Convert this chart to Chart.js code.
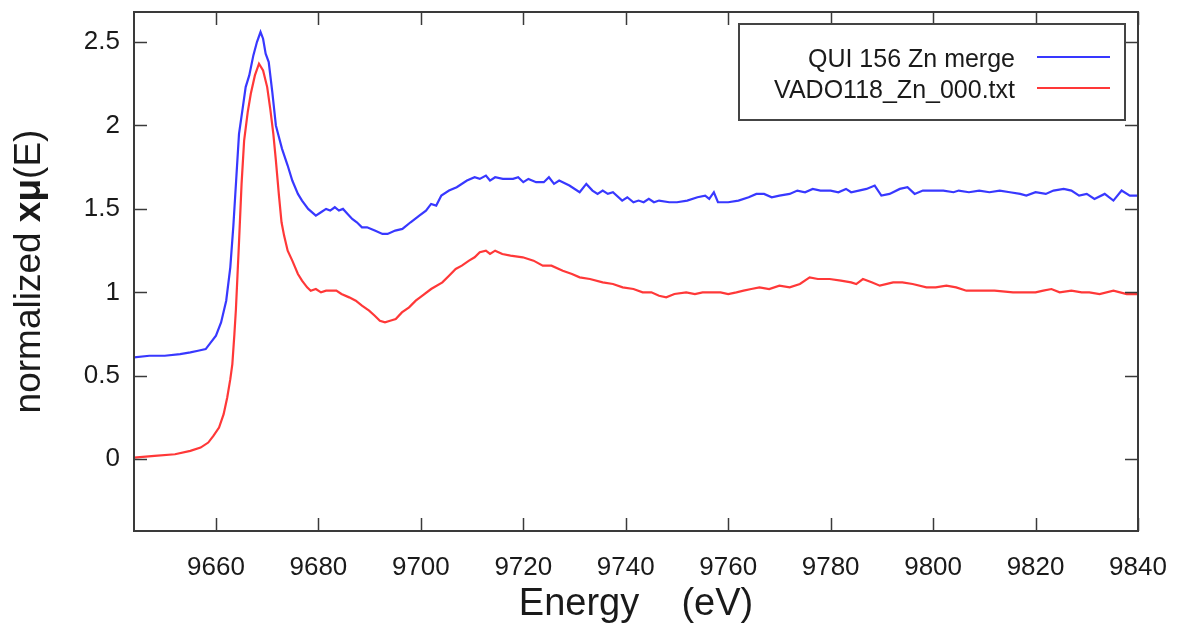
<!DOCTYPE html>
<html>
<head>
<meta charset="utf-8">
<title>normalized xμ(E)</title>
<script src="https://cdn.jsdelivr.net/npm/chart.js@4.4.1/dist/chart.umd.min.js"></script>
<style>
  html, body { margin: 0; padding: 0; background: #fff; }
  canvas { display: block; }
</style>
</head>
<body>
<canvas id="myChart" width="1183" height="627"></canvas>
<script>
// QUI 156 Zn merge (blue)
const blueEnergy = [9644, 9647, 9650, 9653, 9655, 9656.5, 9658, 9659, 9660, 9661, 9662, 9662.8, 9663.4, 9664, 9664.5,
  9665.2, 9665.8, 9666.5, 9667.3, 9668, 9668.7, 9669.2, 9669.7, 9670.3, 9671, 9671.7, 9672.3, 9672.9, 9674, 9674.9,
  9676, 9676.8, 9678, 9679.5, 9680.5, 9681.5, 9682.3, 9683.2, 9684, 9684.8, 9685.7, 9686.6, 9687.5, 9688.5, 9689.5,
  9691, 9692.5, 9693.5, 9695, 9696.4, 9698, 9699.7, 9701, 9702, 9703, 9704, 9705.5, 9707, 9709, 9710.5,
  9711.5, 9712.7, 9713.5, 9714.5, 9716, 9718, 9719, 9720, 9721, 9722.5, 9724, 9725, 9726, 9727, 9729,
  9731, 9732.3, 9733.5, 9734.5, 9735.5, 9736.5, 9737.5, 9739.3, 9740.3, 9741.5, 9742.5, 9743.5, 9744.5, 9745.5, 9746.5,
  9748.5, 9750, 9752, 9754, 9755.5, 9756.3, 9757.2, 9758, 9760, 9762, 9764, 9765.5, 9767, 9768.5, 9770,
  9772, 9773.5, 9775, 9776.5, 9778, 9780, 9781.5, 9783, 9784, 9785.5, 9787, 9788.6, 9789.9, 9791.5, 9793.5,
  9795, 9796.4, 9798, 9800, 9802, 9804, 9805, 9807, 9809, 9811, 9813, 9815, 9817, 9818.2, 9820,
  9822, 9823.5, 9825.5, 9827, 9828.5, 9830, 9831.5, 9833.5, 9835.2, 9836.8, 9838.4, 9840];
const blueMu = [0.61, 0.62, 0.62, 0.63, 0.64, 0.65, 0.66, 0.70, 0.74, 0.82, 0.95, 1.15, 1.40, 1.70, 1.95,
  2.10, 2.23, 2.30, 2.42, 2.50, 2.56, 2.52, 2.43, 2.38, 2.20, 2.00, 1.93, 1.86, 1.76, 1.67,
  1.59, 1.55, 1.50, 1.46, 1.48, 1.50, 1.49, 1.51, 1.49, 1.50, 1.47, 1.44, 1.42, 1.39, 1.39,
  1.37, 1.35, 1.35, 1.37, 1.38, 1.42, 1.46, 1.49, 1.53, 1.52, 1.58, 1.61, 1.63, 1.67, 1.69,
  1.68, 1.70, 1.67, 1.69, 1.68, 1.68, 1.69, 1.66, 1.68, 1.66, 1.66, 1.69, 1.65, 1.67, 1.64,
  1.60, 1.65, 1.61, 1.59, 1.61, 1.59, 1.60, 1.55, 1.57, 1.54, 1.55, 1.54, 1.56, 1.54, 1.55,
  1.54, 1.54, 1.55, 1.57, 1.58, 1.56, 1.60, 1.54, 1.54, 1.55, 1.57, 1.59, 1.59, 1.57, 1.58,
  1.59, 1.61, 1.60, 1.62, 1.61, 1.61, 1.60, 1.62, 1.60, 1.61, 1.62, 1.64, 1.58, 1.59, 1.62,
  1.63, 1.59, 1.61, 1.61, 1.61, 1.60, 1.61, 1.60, 1.61, 1.60, 1.61, 1.60, 1.59, 1.58, 1.60,
  1.59, 1.61, 1.62, 1.61, 1.58, 1.59, 1.56, 1.59, 1.55, 1.61, 1.58, 1.58];

// VADO118_Zn_000.txt (red)
const redEnergy = [9644, 9648, 9652, 9655, 9657, 9658.5, 9659.5, 9660.6, 9661.5, 9662.2, 9662.8, 9663.2, 9663.6, 9663.9, 9664.2,
  9664.5, 9665, 9665.5, 9666.2, 9666.8, 9667.6, 9668.4, 9669.2, 9670, 9670.6, 9671.2, 9671.7, 9672.3, 9672.8, 9673.3,
  9674, 9674.9, 9676, 9676.8, 9677.8, 9678.5, 9679.5, 9680.5, 9681.5, 9682.5, 9683.5, 9684.5, 9686, 9687.3, 9688.5,
  9689.9, 9691, 9692, 9693, 9694, 9695.1, 9696.3, 9697.7, 9699, 9700.3, 9702, 9704.2, 9705.5, 9706.8, 9708,
  9709.4, 9710.5, 9711.5, 9712.7, 9713.5, 9714.5, 9715.9, 9717.5, 9719.9, 9722, 9723.8, 9725.5, 9727.7, 9729.5, 9731,
  9733, 9735.5, 9737.5, 9739.4, 9741.5, 9743.3, 9745, 9746.5, 9747.9, 9749.5, 9751.8, 9753.5, 9755, 9757, 9758.5,
  9760, 9761.6, 9763, 9764.5, 9766.1, 9768, 9770, 9772, 9774, 9775.9, 9777.5, 9779.8, 9782, 9784, 9785,
  9786.3, 9788, 9789.6, 9792.2, 9794, 9796, 9798.7, 9800.5, 9802.6, 9804.5, 9806.5, 9809, 9812, 9815.6, 9818,
  9820, 9821.5, 9823.1, 9824.7, 9827, 9829, 9830.5, 9832.5, 9835.2, 9837.8, 9840];
const redMu = [0.01, 0.02, 0.03, 0.05, 0.07, 0.10, 0.14, 0.19, 0.27, 0.37, 0.48, 0.57, 0.75, 0.90, 1.10,
  1.30, 1.65, 1.91, 2.08, 2.19, 2.30, 2.37, 2.33, 2.23, 2.10, 1.95, 1.79, 1.58, 1.42, 1.34,
  1.25, 1.19, 1.11, 1.07, 1.03, 1.01, 1.02, 1.00, 1.01, 1.01, 1.01, 0.99, 0.97, 0.95, 0.92,
  0.89, 0.86, 0.83, 0.82, 0.83, 0.84, 0.88, 0.91, 0.95, 0.98, 1.02, 1.06, 1.10, 1.14, 1.16,
  1.19, 1.21, 1.24, 1.25, 1.23, 1.25, 1.23, 1.22, 1.21, 1.19, 1.16, 1.16, 1.13, 1.11, 1.09,
  1.08, 1.06, 1.05, 1.03, 1.02, 1.00, 1.00, 0.98, 0.97, 0.99, 1.00, 0.99, 1.00, 1.00, 1.00,
  0.99, 1.00, 1.01, 1.02, 1.03, 1.02, 1.04, 1.03, 1.05, 1.09, 1.08, 1.08, 1.07, 1.06, 1.05,
  1.08, 1.06, 1.04, 1.06, 1.06, 1.05, 1.03, 1.03, 1.04, 1.03, 1.01, 1.01, 1.01, 1.00, 1.00,
  1.00, 1.01, 1.02, 1.00, 1.01, 1.00, 1.00, 0.99, 1.01, 0.99, 0.99];

const xTicks = [9660, 9680, 9700, 9720, 9740, 9760, 9780, 9800, 9820, 9840];
const yTicks = [0, 0.5, 1, 1.5, 2, 2.5];
const seriesNames = ['QUI 156 Zn merge', 'VADO118_Zn_000.txt'];
const seriesColors = ['#3838ff', '#ff3838'];

const FONT = '"Liberation Sans", Arial, sans-serif';
const AXIS_COLOR = '#3a3a3a';

function toPoints(xs, ys) {
  return xs.map(function (x, i) { return { x: x, y: ys[i] }; });
}

// gnuplot-like frame: inward ticks on all four sides, boxed legend, y title with bold xμ
const gnuplotFrame = {
  id: 'gnuplotFrame',
  afterDatasetsDraw(chart) {
    const ctx = chart.ctx;
    const a = chart.chartArea;
    const x = chart.scales.x, y = chart.scales.y;
    const tick = 13;

    function seg(x1, y1, x2, y2) {
      ctx.beginPath(); ctx.moveTo(x1, y1); ctx.lineTo(x2, y2); ctx.stroke();
    }

    ctx.save();
    ctx.strokeStyle = AXIS_COLOR;
    ctx.lineWidth = 1.5;
    x.ticks.forEach(function (t) {
      const px = Math.round(x.getPixelForValue(t.value)) + 0.5;
      seg(px, a.bottom, px, a.bottom - tick);
      seg(px, a.top, px, a.top + tick);
    });
    y.ticks.forEach(function (t) {
      const py = Math.round(y.getPixelForValue(t.value)) + 0.5;
      seg(a.left, py, a.left + tick, py);
      seg(a.right, py, a.right - tick, py);
    });
    ctx.lineWidth = 2;
    ctx.strokeRect(a.left, a.top, a.right - a.left, a.bottom - a.top);

    // legend box
    const box = { left: 739, top: 24, right: 1125, bottom: 120 };
    ctx.fillStyle = '#fff';
    ctx.fillRect(box.left, box.top, box.right - box.left, box.bottom - box.top);
    ctx.strokeStyle = '#444';
    ctx.lineWidth = 2;
    ctx.strokeRect(box.left, box.top, box.right - box.left, box.bottom - box.top);
    ctx.font = '25px ' + FONT;
    ctx.textAlign = 'right';
    ctx.textBaseline = 'alphabetic';
    chart.data.datasets.forEach(function (ds, i) {
      const rowY = 57 + i * 31;
      ctx.fillStyle = '#1a1a1a';
      ctx.fillText(ds.label, 1015, rowY + 10);
      ctx.strokeStyle = ds.borderColor;
      ctx.lineWidth = 2;
      seg(1037, rowY, 1110, rowY);
    });

    // y axis title
    const parts = [['normalized ', ''], ['xμ', 'bold '], ['(E)', '']];
    ctx.translate(40, (a.top + a.bottom) / 2);
    ctx.rotate(-Math.PI / 2);
    ctx.textAlign = 'left';
    ctx.fillStyle = '#1a1a1a';
    let total = 0;
    parts.forEach(function (p) {
      ctx.font = p[1] + '37px ' + FONT;
      total += ctx.measureText(p[0]).width;
    });
    let pos = -total / 2;
    parts.forEach(function (p) {
      ctx.font = p[1] + '37px ' + FONT;
      ctx.fillText(p[0], pos, 0);
      pos += ctx.measureText(p[0]).width;
    });
    ctx.restore();
  }
};

const ctx = document.getElementById('myChart').getContext('2d');
const myChart = new Chart(ctx, {
  type: 'line',
  data: {
    datasets: [
      { label: seriesNames[0], data: toPoints(blueEnergy, blueMu), borderColor: seriesColors[0] },
      { label: seriesNames[1], data: toPoints(redEnergy, redMu), borderColor: seriesColors[1] }
    ]
  },
  options: {
    responsive: false,
    devicePixelRatio: 1,
    animation: false,
    parsing: false,
    layout: { padding: { top: 12, right: 45, left: 0, bottom: 0 } },
    elements: {
      point: { radius: 0 },
      line: { borderWidth: 2.2, tension: 0 }
    },
    plugins: {
      legend: { display: false },
      tooltip: { enabled: false }
    },
    scales: {
      x: {
        type: 'linear',
        min: 9644,
        max: 9840,
        afterFit: function (scale) {
          scale.height = 96;
          scale.paddingLeft = 0;
          scale.paddingRight = 0;
        },
        afterBuildTicks: function (scale) {
          scale.ticks = xTicks.map(function (v) { return { value: v }; });
        },
        grid: { display: false, drawTicks: false },
        border: { display: false },
        ticks: {
          padding: 21,
          color: '#1a1a1a',
          font: { family: FONT, size: 26 },
          maxRotation: 0,
          autoSkip: false,
          callback: function (v) { return String(v); }
        },
        title: {
          display: true,
          text: 'Energy    (eV)',
          color: '#1a1a1a',
          font: { family: FONT, size: 38 },
          padding: { top: 0, bottom: 0 }
        }
      },
      y: {
        type: 'linear',
        min: -0.43,
        max: 2.68,
        afterFit: function (scale) {
          scale.width = 134;
          scale.paddingTop = 0;
          scale.paddingBottom = 0;
        },
        afterBuildTicks: function (scale) {
          scale.ticks = yTicks.map(function (v) { return { value: v }; });
        },
        grid: { display: false, drawTicks: false },
        border: { display: false },
        ticks: {
          padding: 14,
          color: '#1a1a1a',
          font: { family: FONT, size: 26 },
          autoSkip: false,
          callback: function (v) { return String(v); }
        }
      }
    }
  },
  plugins: [gnuplotFrame]
});
</script>
</body>
</html>
